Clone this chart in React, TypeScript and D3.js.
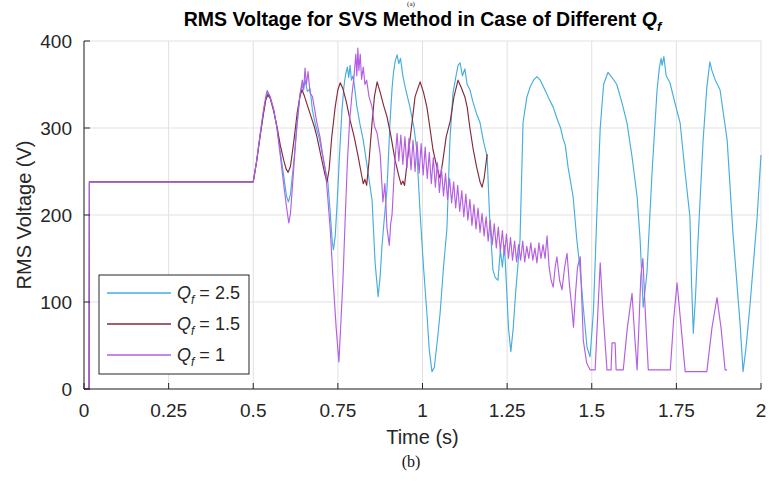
import React from 'react';
import * as d3 from 'd3';

const xTicks = [0, 0.25, 0.5, 0.75, 1, 1.25, 1.5, 1.75, 2];
const xTickLabels = ['0', '0.25', '0.5', '0.75', '1', '1.25', '1.5', '1.75', '2'];
const yTicks = [0, 100, 200, 300, 400];
const yTickLabels = ['0', '100', '200', '300', '400'];
const seriesQf = ['2.5', '1.5', '1'];
const seriesColors = ['#45ADDF', '#84293A', '#B45EE2'];

// Q_f = 2.5 : [time (s), RMS voltage (V)]
const qf25: [number, number][] = [
  [0, 0], [0.015, 0], [0.016, 238], [0.5, 238],
  [0.51, 262], [0.52, 290], [0.53, 318], [0.537, 334], [0.542, 340], [0.55, 336], [0.56, 322], [0.57, 300],
  [0.58, 272], [0.59, 245], [0.598, 222], [0.604, 215], [0.61, 224], [0.62, 262], [0.63, 305], [0.637, 335],
  [0.644, 350], [0.648, 344], [0.653, 355], [0.66, 342], [0.668, 345], [0.675, 320], [0.685, 302], [0.695, 288],
  [0.705, 268], [0.713, 252], [0.72, 240], [0.727, 205], [0.733, 171], [0.737, 160], [0.742, 175], [0.748, 215],
  [0.755, 270], [0.762, 320], [0.768, 348], [0.773, 362], [0.778, 370], [0.782, 358], [0.786, 372], [0.79, 355],
  [0.795, 360], [0.8, 345], [0.806, 325], [0.815, 305], [0.825, 286], [0.838, 252], [0.851, 217], [0.86, 145],
  [0.869, 106], [0.875, 130], [0.88, 163], [0.888, 200], [0.895, 229], [0.904, 306], [0.91, 345], [0.914, 363],
  [0.92, 378], [0.925, 384], [0.93, 374], [0.935, 380], [0.942, 360], [0.95, 345], [0.963, 324], [0.975, 300],
  [0.983, 275], [0.993, 202], [1.003, 140], [1.013, 87], [1.02, 45], [1.028, 20], [1.035, 25], [1.045, 60],
  [1.052, 87], [1.062, 140], [1.072, 183], [1.081, 286], [1.09, 340], [1.1, 362], [1.105, 372], [1.111, 375],
  [1.118, 360], [1.125, 368], [1.132, 350], [1.14, 344], [1.149, 330], [1.16, 316], [1.17, 306], [1.18, 285],
  [1.191, 267], [1.198, 200], [1.208, 137], [1.215, 128], [1.223, 125], [1.23, 160], [1.236, 140], [1.242, 165],
  [1.248, 120], [1.254, 70], [1.261, 43], [1.268, 70], [1.275, 110], [1.288, 171], [1.297, 306], [1.308, 335],
  [1.318, 347], [1.328, 355], [1.338, 359], [1.348, 355], [1.36, 345], [1.372, 335], [1.386, 324], [1.4, 308],
  [1.408, 300], [1.415, 288], [1.422, 280], [1.43, 255], [1.445, 221], [1.456, 171], [1.465, 140], [1.475, 94],
  [1.486, 48], [1.495, 37], [1.505, 90], [1.515, 200], [1.525, 300], [1.535, 350], [1.548, 364], [1.56, 358],
  [1.574, 350], [1.59, 328], [1.604, 306], [1.619, 267], [1.634, 221], [1.643, 171], [1.652, 94], [1.663, 133],
  [1.678, 248], [1.693, 344], [1.7, 370], [1.705, 380], [1.708, 372], [1.713, 382], [1.72, 360], [1.731, 352],
  [1.745, 330], [1.761, 306], [1.776, 248], [1.79, 198], [1.795, 120], [1.8, 64], [1.807, 110], [1.814, 171],
  [1.829, 286], [1.84, 347], [1.849, 376], [1.855, 366], [1.865, 355], [1.879, 344], [1.9, 286], [1.917, 180],
  [1.938, 76], [1.947, 20], [1.955, 45], [1.967, 94], [1.988, 194], [2.0, 269],
];

// Q_f = 1.5
const qf15: [number, number][] = [
  [0, 0], [0.015, 0], [0.016, 238], [0.5, 238],
  [0.51, 262], [0.52, 290], [0.53, 316], [0.537, 332], [0.543, 338], [0.55, 334], [0.56, 320], [0.57, 302],
  [0.58, 280], [0.59, 263], [0.597, 253], [0.603, 249], [0.61, 256], [0.62, 285], [0.63, 318], [0.638, 336],
  [0.644, 344], [0.65, 338], [0.66, 326], [0.67, 314], [0.68, 302], [0.688, 290], [0.7, 268], [0.712, 246],
  [0.718, 238], [0.724, 252], [0.732, 290], [0.742, 324], [0.75, 344], [0.757, 352], [0.765, 345], [0.775, 330],
  [0.786, 309], [0.798, 290], [0.81, 267], [0.82, 246], [0.825, 236], [0.83, 241], [0.835, 234], [0.842, 262],
  [0.851, 306], [0.858, 336], [0.866, 353], [0.875, 341], [0.885, 326], [0.895, 313], [0.907, 290], [0.919, 263],
  [0.93, 245], [0.937, 235], [0.942, 239], [0.947, 234], [0.955, 262], [0.963, 286], [0.978, 336], [0.993, 353],
  [1.003, 341], [1.013, 324], [1.022, 300], [1.031, 275], [1.042, 256], [1.052, 242], [1.06, 262], [1.07, 290],
  [1.082, 308], [1.093, 336], [1.105, 355], [1.115, 346], [1.125, 336], [1.132, 324], [1.14, 300], [1.15, 275],
  [1.16, 255], [1.17, 238], [1.176, 232], [1.182, 242], [1.191, 270],
];

// Q_f = 1
const qf1: [number, number][] = [
  [0, 0], [0.015, 0], [0.016, 238], [0.5, 238],
  [0.51, 262], [0.52, 292], [0.53, 320], [0.537, 336], [0.541, 343], [0.548, 338], [0.56, 322], [0.57, 300],
  [0.58, 268], [0.59, 235], [0.598, 210], [0.605, 191], [0.61, 202], [0.618, 245], [0.628, 300], [0.638, 338],
  [0.645, 355], [0.649, 344], [0.653, 369], [0.657, 350], [0.662, 365], [0.668, 340], [0.675, 336], [0.688, 306],
  [0.697, 290], [0.706, 267], [0.713, 252], [0.72, 221], [0.728, 180], [0.736, 125], [0.745, 70], [0.753, 31],
  [0.758, 70], [0.765, 125], [0.772, 200], [0.778, 260], [0.785, 310], [0.792, 340], [0.798, 360], [0.803, 385],
  [0.806, 360], [0.809, 392], [0.812, 366], [0.816, 385], [0.82, 356], [0.825, 370], [0.83, 350], [0.835, 355],
  [0.842, 336], [0.851, 324], [0.858, 302], [0.866, 294], [0.875, 270], [0.883, 215], [0.889, 236], [0.895, 185],
  [0.902, 165], [0.906, 190], [0.91, 200], [0.918, 260], [0.925, 294],
  [0.93, 262], [0.936, 292], [0.942, 258], [0.948, 290], [0.954, 254], [0.96, 288], [0.966, 252], [0.972, 286],
  [0.978, 250], [0.984, 284], [0.99, 248], [0.996, 282], [1.002, 246], [1.008, 278], [1.014, 242], [1.02, 272],
  [1.026, 236], [1.032, 266], [1.038, 232], [1.044, 260], [1.05, 226], [1.056, 254], [1.062, 222], [1.068, 248],
  [1.074, 218], [1.08, 242], [1.086, 214], [1.092, 238], [1.098, 208], [1.104, 234], [1.11, 204], [1.116, 228],
  [1.122, 198], [1.128, 224], [1.134, 194], [1.14, 218], [1.146, 188], [1.152, 212], [1.158, 184], [1.164, 208],
  [1.17, 180], [1.176, 202], [1.182, 176], [1.188, 198], [1.194, 170], [1.2, 194], [1.206, 166], [1.212, 190],
  [1.218, 162], [1.224, 186], [1.23, 158], [1.236, 182], [1.242, 154], [1.248, 178], [1.254, 150], [1.26, 174],
  [1.266, 148], [1.272, 170], [1.278, 146], [1.284, 166], [1.29, 148], [1.296, 170], [1.302, 146], [1.308, 164],
  [1.314, 150], [1.32, 168], [1.326, 148], [1.332, 162], [1.338, 145], [1.344, 168], [1.35, 150], [1.356, 166],
  [1.362, 150], [1.368, 176], [1.374, 140], [1.38, 125], [1.386, 117], [1.392, 140], [1.397, 152], [1.405, 125],
  [1.412, 114], [1.42, 140], [1.427, 156], [1.434, 120], [1.441, 94], [1.446, 71], [1.452, 110], [1.458, 140],
  [1.466, 152], [1.47, 110], [1.475, 56], [1.485, 30], [1.495, 22], [1.51, 22], [1.517, 80], [1.525, 145],
  [1.533, 90], [1.545, 22], [1.557, 22], [1.56, 53], [1.569, 53], [1.572, 22], [1.593, 22], [1.605, 70],
  [1.619, 110], [1.627, 60], [1.634, 22], [1.638, 60], [1.645, 130], [1.651, 150], [1.658, 90], [1.667, 22],
  [1.732, 22], [1.742, 80], [1.752, 122], [1.762, 80], [1.776, 20], [1.84, 20], [1.855, 70], [1.87, 105],
  [1.882, 70], [1.894, 22], [1.9, 22],
];

const allSeries = [qf25, qf15, qf1];

export default function App() {
  const W = 769;
  const H = 481;
  const x = d3.scaleLinear().domain([0, 2]).range([84, 761]);
  const y = d3.scaleLinear().domain([0, 400]).range([389, 41]);
  const line = d3
    .line<[number, number]>()
    .x((d) => x(d[0]))
    .y((d) => y(d[1]));
  const font = 'Liberation Sans, Arial, Helvetica, sans-serif';
  const axisColor = '#262626';
  const [x0, x1] = x.range();
  const [yb, yt] = y.range();
  const legendRows = [293, 324, 355];

  return (
    <svg
      width={W}
      height={H}
      viewBox={`0 0 ${W} ${H}`}
      style={{ position: 'absolute', left: 0, top: 0, background: '#fff' }}
      fontFamily={font}
    >
      <defs>
        <clipPath id="plotClip">
          <rect x={x0} y={yt - 2} width={x1 - x0 + 1} height={yb - yt + 3} />
        </clipPath>
      </defs>
      <rect x={0} y={0} width={W} height={H} fill="#fff" />
      {/* caption fragments */}
      <text x={411} y={6.3} fontFamily="Liberation Serif, Times New Roman, serif" fontSize={7} textAnchor="middle" fill="#111">
        (a)
      </text>
      <text x={411} y={467} fontFamily="Liberation Serif, Times New Roman, serif" fontSize={16} textAnchor="middle" fill="#111">
        (b)
      </text>

      {/* grid */}
      {xTicks.map((t) => (
        <line key={'gx' + t} x1={x(t)} x2={x(t)} y1={yb} y2={yt} stroke="#e1e1e1" strokeWidth={1} />
      ))}
      {yTicks.map((t) => (
        <line key={'gy' + t} x1={x0} x2={x1} y1={y(t)} y2={y(t)} stroke="#e1e1e1" strokeWidth={1} />
      ))}

      {/* series */}
      <g clipPath="url(#plotClip)" fill="none">
        {allSeries.map((s, i) => (
          <path key={i} d={line(s) || ''} stroke={seriesColors[i]} strokeWidth={1.15} strokeLinejoin="round" />
        ))}
      </g>

      {/* axes */}
      <line x1={x0} x2={x0} y1={yb} y2={yt} stroke={axisColor} strokeWidth={1} />
      <line x1={x0} x2={x1} y1={yb} y2={yb} stroke={axisColor} strokeWidth={1} />
      {xTicks.map((t, i) => (
        <g key={'xt' + t}>
          <line x1={x(t)} x2={x(t)} y1={yb} y2={yb - 6} stroke={axisColor} strokeWidth={1} />
          <text x={x(t)} y={yb + 28} fontSize={19} textAnchor="middle" fill={axisColor}>
            {xTickLabels[i]}
          </text>
        </g>
      ))}
      {yTicks.map((t, i) => (
        <g key={'yt' + t}>
          <line x1={x0} x2={x0 + 6} y1={y(t)} y2={y(t)} stroke={axisColor} strokeWidth={1} />
          <text x={x0 - 12} y={y(t) + 6.5} fontSize={19} textAnchor="end" fill={axisColor}>
            {yTickLabels[i]}
          </text>
        </g>
      ))}

      {/* axis labels */}
      <text x={(x0 + x1) / 2} y={444} fontSize={20} textAnchor="middle" fill={axisColor}>
        Time (s)
      </text>
      <text
        transform={`translate(31, ${(yb + yt) / 2}) rotate(-90)`}
        fontSize={20}
        textAnchor="middle"
        fill={axisColor}
      >
        RMS Voltage (V)
      </text>

      {/* title */}
      <text x={(x0 + x1) / 2} y={26} fontSize={19.5} fontWeight="bold" textAnchor="middle" fill="#000">
        RMS Voltage for SVS Method in Case of Different{' '}
        <tspan fontStyle="italic">Q</tspan>
        <tspan fontStyle="italic" fontSize={13} dy={5}>f</tspan>
      </text>

      {/* legend */}
      <rect x={99} y={275} width={150} height={99} fill="#fff" stroke={axisColor} strokeWidth={1} />
      {seriesQf.map((q, i) => (
        <g key={'lg' + q}>
          <line x1={107} x2={171} y1={legendRows[i]} y2={legendRows[i]} stroke={seriesColors[i]} strokeWidth={1.3} />
          <text x={177} y={legendRows[i] + 6} fontSize={18} fill={axisColor}>
            <tspan fontStyle="italic">Q</tspan>
            <tspan fontStyle="italic" fontSize={12} dy={5}>f</tspan>
            <tspan dy={-5}> = {q}</tspan>
          </text>
        </g>
      ))}
    </svg>
  );
}
